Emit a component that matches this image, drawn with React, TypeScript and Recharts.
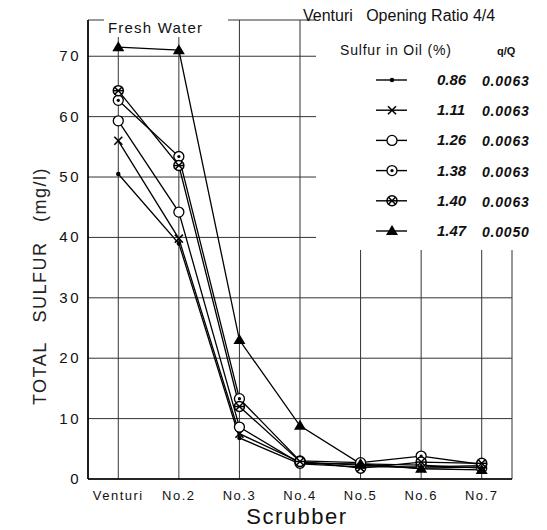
import React from "react";
import { LineChart, Line, XAxis, YAxis, CartesianGrid } from "recharts";

const scrubbers = ["Venturi", "No.2", "No.3", "No.4", "No.5", "No.6", "No.7"];

// total sulfur (mg/l) per scrubber stage
const sulfur086 = [50.5, 39.0, 6.8, 2.5, 2.0, 2.0, 2.2];
const sulfur111 = [56.0, 39.8, 7.5, 2.8, 2.3, 1.8, 2.0];
const sulfur126 = [59.3, 44.2, 8.6, 2.6, 2.5, 2.3, 1.8];
const sulfur138 = [62.7, 53.4, 13.3, 3.0, 2.7, 3.8, 2.4];
const sulfur140 = [64.3, 51.9, 12.0, 2.9, 1.8, 2.8, 2.6];
const sulfur147 = [71.5, 71.0, 23.0, 8.8, 2.5, 1.7, 1.5];

const sulfurInOil = ["0.86", "1.11", "1.26", "1.38", "1.40", "1.47"];
const qRatio = ["0.0063", "0.0063", "0.0063", "0.0063", "0.0063", "0.0050"];
const markers = ["dot", "x", "open", "dotc", "cross", "tri"];
const yTicks = [0, 10, 20, 30, 40, 50, 60, 70];

const series = [sulfur086, sulfur111, sulfur126, sulfur138, sulfur140, sulfur147];

const data = scrubbers.map((name, i) => {
  const row: Record<string, any> = { x: i, name };
  series.forEach((s, k) => {
    row["s" + k] = s[i];
  });
  return row;
});

const FONT = "'Liberation Sans', Arial, sans-serif";

function Marker({ kind, cx, cy }: { kind: string; cx: number; cy: number }) {
  if (cx == null || cy == null) return null;
  switch (kind) {
    case "dot":
      return <circle cx={cx} cy={cy} r={2.2} fill="#000" />;
    case "x":
      return (
        <g stroke="#000" strokeWidth={1.6}>
          <line x1={cx - 4} y1={cy - 4} x2={cx + 4} y2={cy + 4} />
          <line x1={cx - 4} y1={cy + 4} x2={cx + 4} y2={cy - 4} />
        </g>
      );
    case "open":
      return <circle cx={cx} cy={cy} r={5} fill="#fff" stroke="#000" strokeWidth={1.3} />;
    case "dotc":
      return (
        <g>
          <circle cx={cx} cy={cy} r={5} fill="#fff" stroke="#000" strokeWidth={1.3} />
          <circle cx={cx} cy={cy} r={1.6} fill="#000" />
        </g>
      );
    case "cross":
      return (
        <g stroke="#000" strokeWidth={1.5}>
          <circle cx={cx} cy={cy} r={5} fill="#fff" />
          <line x1={cx - 3.5} y1={cy - 3.5} x2={cx + 3.5} y2={cy + 3.5} />
          <line x1={cx - 3.5} y1={cy + 3.5} x2={cx + 3.5} y2={cy - 3.5} />
          <line x1={cx - 5} y1={cy} x2={cx + 5} y2={cy} />
        </g>
      );
    case "tri":
      return (
        <polygon
          points={`${cx},${cy - 6} ${cx - 6},${cy + 4} ${cx + 6},${cy + 4}`}
          fill="#000"
        />
      );
  }
  return null;
}

const XTick = (props: any) => {
  const { x, y, payload } = props;
  return (
    <text
      x={x}
      y={y + 13}
      textAnchor="middle"
      fontFamily={FONT}
      fontSize={13}
      letterSpacing={1.5}
      fill="#111"
    >
      {scrubbers[payload.value]}
    </text>
  );
};

const YTick = (props: any) => {
  const { y, payload } = props;
  return (
    <text
      x={81}
      y={y + 5}
      textAnchor="end"
      fontFamily={FONT}
      fontSize={15}
      letterSpacing={2.5}
      fill="#111"
    >
      {payload.value}
    </text>
  );
};

export default function App() {
  return (
    <div style={{ position: "absolute", left: 0, top: 0, width: 547, height: 530, background: "#fff" }}>
      <LineChart
        width={547}
        height={530}
        data={data}
        margin={{ top: 20, right: 35, bottom: 21, left: 0 }}
      >
        <CartesianGrid stroke="#333" strokeWidth={1} horizontal vertical />
        <XAxis
          dataKey="x"
          type="number"
          domain={[-0.5, 6.5]}
          ticks={[0, 1, 2, 3, 4, 5, 6]}
          height={30}
          tickLine={false}
          axisLine={{ stroke: "#000", strokeWidth: 1.6 }}
          tick={<XTick />}
          interval={0}
        />
        <YAxis
          type="number"
          domain={[0, 76]}
          ticks={yTicks}
          width={88}
          tickLine={false}
          axisLine={{ stroke: "#000", strokeWidth: 1.6 }}
          tick={<YTick />}
          interval={0}
        />
        {series.map((_, k) => (
          <Line
            key={k}
            dataKey={"s" + k}
            type="linear"
            stroke="#000"
            strokeWidth={1.3}
            isAnimationActive={false}
            dot={(p: any) => (
              <Marker key={`m${k}-${p.index}`} kind={markers[k]} cx={p.cx} cy={p.cy} />
            )}
            activeDot={false}
          />
        ))}
      </LineChart>
      <svg
        width={547}
        height={530}
        style={{ position: "absolute", left: 0, top: 0, pointerEvents: "none" }}
      >
        <rect x={104} y={17} width={124} height={20} fill="#fff" />
        <text x={108} y={33} fontFamily={FONT} fontSize={15} letterSpacing={1.2} fill="#111">
          Fresh Water
        </text>
        <text
          transform="translate(46,286) rotate(-90)"
          textAnchor="middle"
          fontFamily={FONT}
          fontSize={18}
          letterSpacing={1.5}
          fill="#222"
          style={{ whiteSpace: "pre" }}
        >
          {"TOTAL   SULFUR   (mg/l)"}
        </text>
        <text x={297} y={524} textAnchor="middle" fontFamily={FONT} fontSize={22} letterSpacing={1.5} fill="#111">
          Scrubber
        </text>
        <rect x={316} y={0} width={231} height={250} fill="#fff" />
        <text
          x={303}
          y={21}
          fontFamily={FONT}
          fontSize={16}
          fill="#111"
          style={{ whiteSpace: "pre" }}
        >
          {"Venturi   Opening Ratio 4/4"}
        </text>
        <text x={340} y={55} fontFamily={FONT} fontSize={14} letterSpacing={0.8} fill="#111">
          Sulfur in Oil (%)
        </text>
        <text x={497} y={55} fontFamily={FONT} fontSize={11} fontWeight="bold" fill="#111">
          q/Q
        </text>
        {sulfurInOil.map((s, k) => {
          const cy = 80 + k * 30.2;
          return (
            <g key={s}>
              <line x1={376} y1={cy} x2={407} y2={cy} stroke="#000" strokeWidth={1.4} />
              <Marker kind={markers[k]} cx={392} cy={cy} />
              <text
                x={437}
                y={cy + 5}
                fontFamily={FONT}
                fontSize={15}
                fontStyle="italic"
                fontWeight="bold"
                fill="#111"
              >
                {s}
              </text>
              <text
                x={482}
                y={cy + 6}
                fontFamily={FONT}
                fontSize={14}
                fontStyle="italic"
                fontWeight="bold"
                letterSpacing={0.8}
                fill="#111"
              >
                {qRatio[k]}
              </text>
            </g>
          );
        })}
      </svg>
    </div>
  );
}
